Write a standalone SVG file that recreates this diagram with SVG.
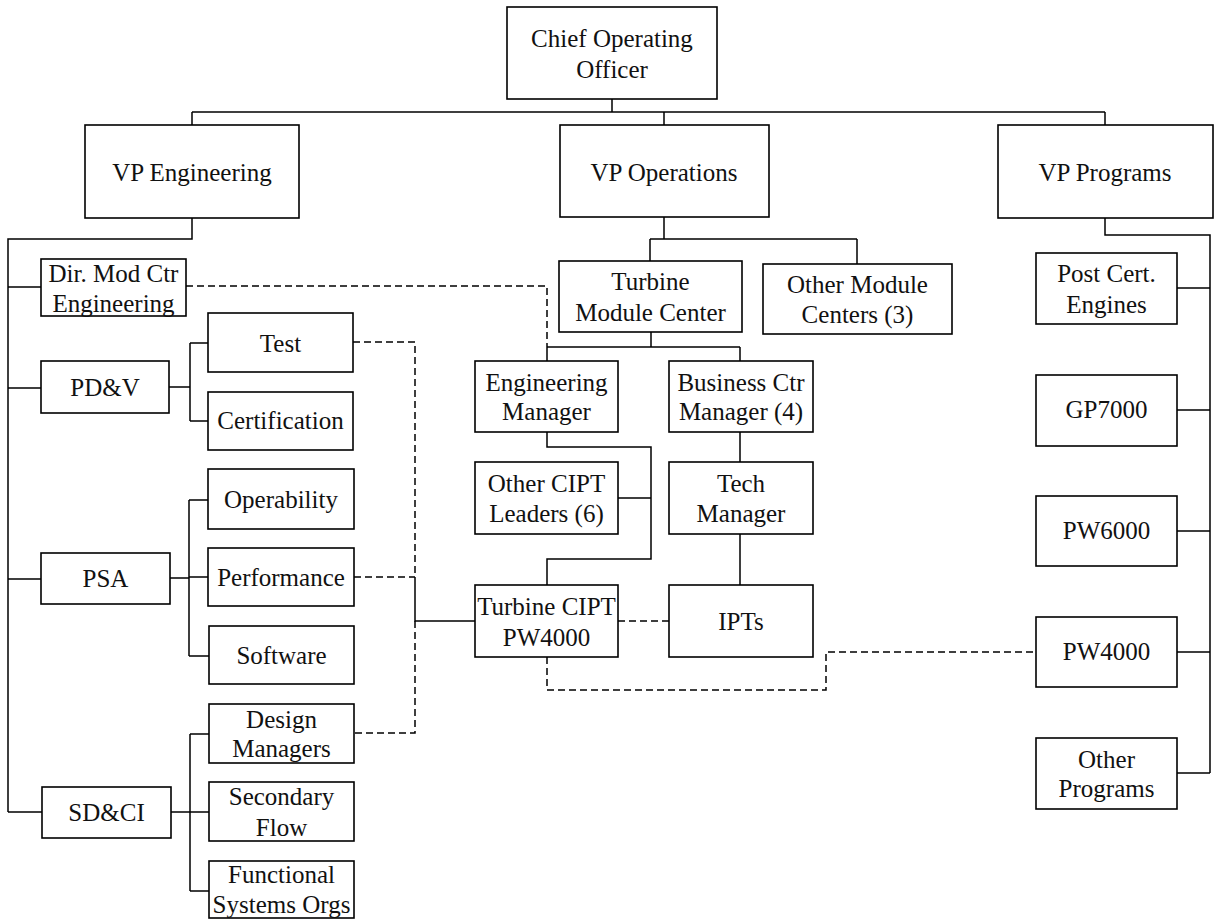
<svg xmlns="http://www.w3.org/2000/svg" width="1215" height="923" viewBox="0 0 1215 923">
  <style>
    .box { fill: #fff; stroke: #000; stroke-width: 1.6; }
    .ln { fill: none; stroke: #000; stroke-width: 1.5; }
    .dash { stroke-dasharray: 7 4; }
    text { font-family: "Liberation Serif", "Times New Roman", serif; font-size: 25px; text-anchor: middle; fill: #111; }
  </style>
  <rect width="1215" height="923" fill="#fff"/>

  <!-- reporting lines -->
  <g id="connectors">
    <path class="ln" d="M612 99 V112 M192 112 H1105 M192 112 V125 M664 112 V125 M1105 112 V125"/>
    <!-- engineering -->
    <path class="ln" d="M192 218 V239 H8 V812 M8 287 H41 M8 388 H41 M8 579 H41 M8 812 H42"/>
    <path class="ln" d="M169 387 H190 M190 343 V421 M190 343 H208 M190 421 H208"/>
    <path class="ln" d="M170 578 H189 M189 500 V656 M189 500 H208 M189 577 H208 M189 656 H209"/>
    <path class="ln" d="M171 812 H190 M190 734 V891 M190 734 H209 M190 812 H209 M190 891 H209"/>
    <!-- operations -->
    <path class="ln" d="M664 217 V239 M650 239 H857 M650 239 V261 M857 239 V264"/>
    <path class="ln" d="M651 332 V347 M547 347 H740 M547 347 V361 M740 347 V361"/>
    <path class="ln" d="M547 432 V447 H651 V559 H547 V585 M618 498 H651"/>
    <path class="ln" d="M740 432 V462 M740 534 V585"/>
    <!-- programs -->
    <path class="ln" d="M1105 218 V235 H1210 V773 M1177 288 H1210 M1177 410 H1210 M1177 531 H1210 M1177 652 H1210 M1177 773 H1210"/>
    <path class="ln" d="M415 577 V621 H475"/>
    <!-- dotted-line relationships -->
    <path class="ln dash" d="M186 286 H547 V347"/>
    <path class="ln dash" d="M353 342 H415 V577 M354 577 H415 M415 621 V733 H354"/>
    <path class="ln dash" d="M618 621 H669"/>
    <path class="ln dash" d="M547 657 V690 H826 V652 H1036"/>
  </g>

  <g id="coo"><rect class="box" x="507" y="7" width="210" height="92"/><text x="612" y="47">Chief Operating</text><text x="612" y="78">Officer</text></g>
  <g id="vp-engineering"><rect class="box" x="85" y="125" width="214" height="93"/><text x="192" y="181">VP Engineering</text></g>
  <g id="vp-operations"><rect class="box" x="560" y="125" width="209" height="92"/><text x="664" y="181">VP Operations</text></g>
  <g id="vp-programs"><rect class="box" x="998" y="125" width="215" height="93"/><text x="1105" y="181">VP Programs</text></g>

  <g id="dir-mod-ctr"><rect class="box" x="41" y="259" width="145" height="57"/><text x="113.5" y="282">Dir. Mod Ctr</text><text x="113.5" y="312">Engineering</text></g>
  <g id="pdv"><rect class="box" x="41" y="361" width="128" height="52"/><text x="105" y="396">PD&amp;V</text></g>
  <g id="test"><rect class="box" x="208" y="313" width="145" height="59"/><text x="280.5" y="352">Test</text></g>
  <g id="certification"><rect class="box" x="208" y="392" width="145" height="58"/><text x="280.5" y="429">Certification</text></g>
  <g id="operability"><rect class="box" x="208" y="469" width="146" height="60"/><text x="281" y="508">Operability</text></g>
  <g id="performance"><rect class="box" x="208" y="548" width="146" height="58"/><text x="281" y="586">Performance</text></g>
  <g id="psa"><rect class="box" x="41" y="553" width="129" height="51"/><text x="105.5" y="587">PSA</text></g>
  <g id="software"><rect class="box" x="209" y="626" width="145" height="58"/><text x="281.5" y="664">Software</text></g>
  <g id="design-managers"><rect class="box" x="209" y="704" width="145" height="59"/><text x="281.5" y="728">Design</text><text x="281.5" y="757">Managers</text></g>
  <g id="secondary-flow"><rect class="box" x="209" y="782" width="145" height="59"/><text x="281.5" y="805">Secondary</text><text x="281.5" y="836">Flow</text></g>
  <g id="functional-systems"><rect class="box" x="209" y="861" width="145" height="57"/><text x="281.5" y="883">Functional</text><text x="281.5" y="913">Systems Orgs</text></g>
  <g id="sdci"><rect class="box" x="42" y="787" width="129" height="51"/><text x="106.5" y="821">SD&amp;CI</text></g>

  <g id="turbine-module-center"><rect class="box" x="559" y="261" width="183" height="71"/><text x="650.5" y="290">Turbine</text><text x="650.5" y="321">Module Center</text></g>
  <g id="other-module-centers"><rect class="box" x="763" y="264" width="189" height="70"/><text x="857.5" y="293">Other Module</text><text x="857.5" y="323">Centers (3)</text></g>
  <g id="engineering-manager"><rect class="box" x="475" y="361" width="143" height="71"/><text x="546.5" y="391">Engineering</text><text x="546.5" y="420">Manager</text></g>
  <g id="business-ctr-manager"><rect class="box" x="669" y="361" width="144" height="71"/><text x="741" y="391">Business Ctr</text><text x="741" y="420">Manager (4)</text></g>
  <g id="other-cipt-leaders"><rect class="box" x="475" y="462" width="143" height="72"/><text x="546.5" y="492">Other CIPT</text><text x="546.5" y="522">Leaders (6)</text></g>
  <g id="tech-manager"><rect class="box" x="669" y="462" width="144" height="72"/><text x="741" y="492">Tech</text><text x="741" y="522">Manager</text></g>
  <g id="turbine-cipt"><rect class="box" x="475" y="585" width="143" height="72"/><text x="546.5" y="615">Turbine CIPT</text><text x="546.5" y="646">PW4000</text></g>
  <g id="ipts"><rect class="box" x="669" y="585" width="144" height="72"/><text x="741" y="630">IPTs</text></g>

  <g id="post-cert-engines"><rect class="box" x="1036" y="253" width="141" height="71"/><text x="1106.5" y="282">Post Cert.</text><text x="1106.5" y="313">Engines</text></g>
  <g id="gp7000"><rect class="box" x="1036" y="375" width="141" height="71"/><text x="1106.5" y="418">GP7000</text></g>
  <g id="pw6000"><rect class="box" x="1036" y="496" width="141" height="70"/><text x="1106.5" y="539">PW6000</text></g>
  <g id="pw4000"><rect class="box" x="1036" y="617" width="141" height="70"/><text x="1106.5" y="660">PW4000</text></g>
  <g id="other-programs"><rect class="box" x="1036" y="738" width="141" height="71"/><text x="1106.5" y="768">Other</text><text x="1106.5" y="797">Programs</text></g>
</svg>
